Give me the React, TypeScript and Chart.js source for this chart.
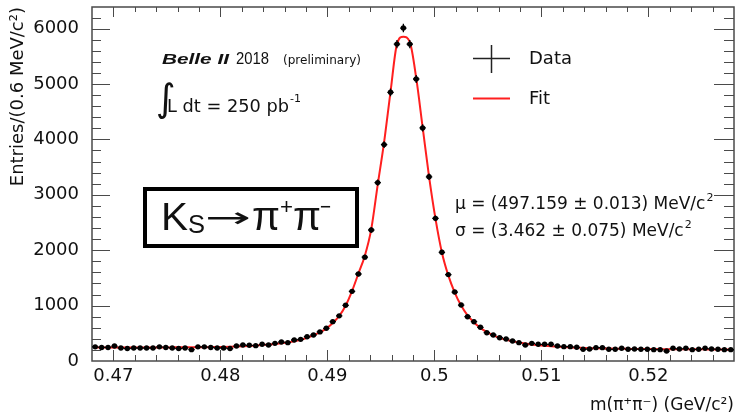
import React, { useEffect, useRef } from "react";
import { Chart, registerables } from "chart.js";

Chart.register(...registerables);

// ---- histogram binning (GeV/c^2) ----
const BIN_LOW = 0.468;
const BIN_WIDTH = 0.0006;

// ---- data: entries per 0.6 MeV/c^2 bin ----
const DATA_COUNTS = [
  255, 245, 245, 270, 235, 225, 235, 235, 235, 235,
  255, 245, 235, 225, 235, 205, 255, 255, 245, 235,
  235, 225, 270, 289, 283, 277, 301, 289, 319, 343,
  331, 379, 391, 439, 469, 525, 590, 710, 815, 1005,
  1257, 1570, 1875, 2365, 3220, 3906, 4850, 5720, 6010, 5720,
  5090, 4207, 3325, 2575, 1962, 1560, 1245, 1010, 800, 709,
  608, 511, 469, 421, 397, 361, 331, 289, 319, 301,
  301, 301, 271, 259, 259, 247, 211, 217, 241, 241,
  211, 211, 229, 211, 217, 211, 211, 205, 205, 180,
  229, 217, 229, 205, 211, 229, 217, 211, 205, 205,
];

// ---- fit curve values read at the bin centres ----
const FIT_VALUES = [
  244, 244, 244, 244, 244, 244, 244, 244, 245, 245,
  245, 245, 246, 246, 247, 247, 248, 249, 250, 252,
  254, 257, 261, 266, 272, 279, 287, 297, 308, 321,
  336, 355, 382, 420, 465, 518, 585, 685, 812, 998,
  1262, 1580, 1900, 2380, 3180, 3950, 4860, 5720, 5855, 5760,
  5110, 4220, 3330, 2570, 1960, 1545, 1235, 1000, 822, 695,
  598, 520, 462, 417, 382, 354, 332, 314, 299, 286,
  275, 266, 258, 251, 245, 240, 236, 232, 229, 226,
  224, 222, 220, 219, 218, 217, 216, 215, 214, 213,
  212, 212, 211, 211, 210, 210, 209, 209, 208, 208,
];

const X_TICKS = [0.47, 0.48, 0.49, 0.5, 0.51, 0.52];
const Y_TICKS = [0, 1000, 2000, 3000, 4000, 5000, 6000];
const X_MIN = 0.468;
const X_MAX = 0.528;
const Y_MIN = 0;
const Y_MAX = 6390;
const X_MINOR_STEP = 0.002;
const Y_MINOR_STEP = 200;

const X_TITLE = "m(π⁺π⁻) (GeV/c²)";
const Y_TITLE = "Entries/(0.6 MeV/c²)";
const SERIES_DATA = "Data";
const SERIES_FIT = "Fit";
const EXPERIMENT = "Belle II";
const YEAR = "2018";
const STATUS = "(preliminary)";
const LUMI = "L dt = 250 pb";
const LUMI_EXP = "-1";
const MU_TEXT = "μ = (497.159 ± 0.013) MeV/c";
const SIGMA_TEXT = "σ = (3.462 ± 0.075) MeV/c";
const DECAY = { k: "K", sub: "S", arrow: "→", pi: "π", plus: "+", minus: "−" };

const FONT = "'DejaVu Sans'";
const HELV = "'Liberation Sans'";
const AXIS_COLOR = "#4a4a4a";
const TEXT_COLOR = "#111";

const font = (size: number, style = "", fam = FONT) => `${style} ${size}px ${fam}`.trim();

const overlay = {
  id: "overlay",
  beforeDatasetsDraw(chart: any) {
    const { ctx, chartArea: a, scales } = chart;
    const x = scales.x;
    const y = scales.y;
    ctx.save();
    ctx.strokeStyle = AXIS_COLOR;
    ctx.lineWidth = 1;
    ctx.beginPath();
    const kx0 = Math.ceil(X_MIN / X_MINOR_STEP - 1e-6);
    const kx1 = Math.floor(X_MAX / X_MINOR_STEP + 1e-6);
    for (let k = kx0; k <= kx1; k++) {
      const px = Math.round(x.getPixelForValue(k * X_MINOR_STEP)) + 0.5;
      if (px <= a.left + 1 || px >= a.right - 1) continue;
      const major = k % 5 === 0;
      const lb = major ? 11 : 6;
      const lt = major ? 10 : 5;
      ctx.moveTo(px, a.bottom);
      ctx.lineTo(px, a.bottom - lb);
      ctx.moveTo(px, a.top);
      ctx.lineTo(px, a.top + lt);
    }
    const ky1 = Math.floor(Y_MAX / Y_MINOR_STEP);
    for (let k = 1; k <= ky1; k++) {
      const py = Math.round(y.getPixelForValue(k * Y_MINOR_STEP)) + 0.5;
      const major = k % 5 === 0;
      const l = major ? 18 : 9;
      const r = major ? 20 : 10;
      ctx.moveTo(a.left, py);
      ctx.lineTo(a.left + l, py);
      ctx.moveTo(a.right, py);
      ctx.lineTo(a.right - r, py);
    }
    ctx.stroke();
    ctx.lineWidth = 1.5;
    ctx.strokeRect(a.left, a.top, a.right - a.left, a.bottom - a.top);
    ctx.restore();
  },
  afterDatasetsDraw(chart: any) {
    const { ctx, scales } = chart;
    const x = scales.x;
    const y = scales.y;
    ctx.save();
    ctx.strokeStyle = "#000";
    ctx.lineWidth = 1.3;
    ctx.beginPath();
    DATA_COUNTS.forEach((n, i) => {
      const c = BIN_LOW + BIN_WIDTH * (i + 0.5);
      const e = Math.sqrt(n);
      const px = x.getPixelForValue(c);
      const py = y.getPixelForValue(n);
      ctx.moveTo(px, y.getPixelForValue(n - e));
      ctx.lineTo(px, y.getPixelForValue(n + e));
      ctx.moveTo(x.getPixelForValue(c - BIN_WIDTH / 2), py);
      ctx.lineTo(x.getPixelForValue(c + BIN_WIDTH / 2), py);
    });
    ctx.stroke();

    ctx.fillStyle = TEXT_COLOR;
    ctx.textBaseline = "alphabetic";
    ctx.textAlign = "left";

    const fitText = (t: string, sx: number, by: number, f: string, w?: number) => {
      ctx.font = f;
      const m = ctx.measureText(t).width;
      if (w && m > 0) {
        ctx.save();
        ctx.translate(sx, by);
        ctx.scale(w / m, 1);
        ctx.fillText(t, 0, 0);
        ctx.restore();
        return w;
      }
      ctx.fillText(t, sx, by);
      return m;
    };

    // Belle II 2018 (preliminary)
    fitText(EXPERIMENT, 162, 64, font(15.5, "italic bold", HELV), 67);
    fitText(YEAR, 236, 64, font(16.5, "", HELV), 33);
    fitText(STATUS, 283, 64, font(12.5), 78);

    // integrated luminosity
    ctx.font = font(38);
    ctx.fillText("∫", 156, 111);
    const lw = fitText(LUMI, 167, 112, font(18), 122);
    ctx.font = font(11);
    ctx.fillText(LUMI_EXP, 167 + lw + 1, 102);

    // legend
    const ds = chart.data.datasets;
    ctx.strokeStyle = "#222";
    ctx.lineWidth = 1.5;
    ctx.beginPath();
    ctx.moveTo(473, 58.5);
    ctx.lineTo(510, 58.5);
    ctx.moveTo(491.5, 45);
    ctx.lineTo(491.5, 73);
    ctx.stroke();
    ctx.strokeStyle = ds[1].borderColor;
    ctx.lineWidth = 2;
    ctx.beginPath();
    ctx.moveTo(473, 98.5);
    ctx.lineTo(510, 98.5);
    ctx.stroke();
    ctx.font = font(18);
    ctx.textBaseline = "middle";
    ctx.fillText(ds[0].label, 529, 59);
    ctx.fillText(ds[1].label, 529, 99);
    ctx.textBaseline = "alphabetic";

    // fit parameters
    const drawWithSup = (txt: string, sx: number, by: number) => {
      ctx.font = font(17);
      ctx.fillText(txt, sx, by);
      const w = ctx.measureText(txt).width;
      ctx.font = font(11);
      ctx.fillText("2", sx + w + 1, by - 8);
    };
    drawWithSup(MU_TEXT, 455, 209);
    drawWithSup(SIGMA_TEXT, 455, 236);

    // decay box
    ctx.strokeStyle = "#000";
    ctx.lineWidth = 4;
    ctx.strokeRect(145, 189, 212, 57);
    const base = 230;
    fitText(DECAY.k, 161, base, font(39, "", HELV), 27);
    fitText(DECAY.sub, 188, base + 3, font(26, "", HELV), 17);
    fitText(DECAY.arrow, 205, base - 3, font(28), 46);
    fitText(DECAY.pi, 252, base, font(40, "", HELV), 28);
    fitText(DECAY.plus, 280, base - 16, font(22, "", HELV), 13);
    fitText(DECAY.pi, 293, base, font(40, "", HELV), 28);
    fitText(DECAY.minus, 320, base - 16, font(22, "", HELV), 11);
    ctx.restore();
  },
};

export default function App() {
  const ref = useRef<HTMLCanvasElement | null>(null);
  useEffect(() => {
    if (!ref.current) return;
    const centers = DATA_COUNTS.map((_, i) => BIN_LOW + BIN_WIDTH * (i + 0.5));
    const chart = new Chart(ref.current, {
      type: "line",
      data: {
        datasets: [
          {
            label: SERIES_DATA,
            data: DATA_COUNTS.map((v, i) => ({ x: centers[i], y: v })),
            showLine: false,
            pointRadius: 2.7,
            pointBackgroundColor: "#000",
            pointBorderWidth: 0,
            borderColor: "#000",
          },
          {
            label: SERIES_FIT,
            data: FIT_VALUES.map((v, i) => ({ x: centers[i], y: v })),
            borderColor: "#ff1f1f",
            borderWidth: 2,
            pointRadius: 0,
            cubicInterpolationMode: "monotone",
            fill: false,
          },
        ],
      },
      options: {
        animation: false,
        responsive: true,
        maintainAspectRatio: false,
        layout: { padding: { top: 7, right: 3, left: 0, bottom: 0 } },
        plugins: { legend: { display: false }, tooltip: { enabled: false } },
        scales: {
          x: {
            type: "linear",
            min: X_MIN,
            max: X_MAX,
            grid: { display: false },
            border: { display: false },
            afterBuildTicks: (s: any) => {
              s.ticks = X_TICKS.map((v) => ({ value: v }));
            },
            afterFit: (s: any) => {
              s.height = 53;
              s.paddingLeft = 0;
              s.paddingRight = 0;
            },
            ticks: {
              font: { family: FONT, size: 18 },
              color: TEXT_COLOR,
              padding: -3,
              maxRotation: 0,
              autoSkip: false,
              callback: (v: any) => String(v),
            },
            title: {
              display: true,
              text: X_TITLE,
              align: "end",
              color: TEXT_COLOR,
              font: { family: FONT, size: 17 },
              padding: { top: 0, bottom: -2 },
            },
          },
          y: {
            type: "linear",
            min: Y_MIN,
            max: Y_MAX,
            grid: { display: false },
            border: { display: false },
            afterBuildTicks: (s: any) => {
              s.ticks = Y_TICKS.map((v) => ({ value: v }));
            },
            afterFit: (s: any) => {
              s.width = 92;
              s.paddingTop = 0;
              s.paddingBottom = 0;
            },
            ticks: {
              font: { family: FONT, size: 18 },
              color: TEXT_COLOR,
              padding: 5,
              callback: (v: any) => String(v),
            },
            title: {
              display: true,
              text: Y_TITLE,
              align: "end",
              color: TEXT_COLOR,
              font: { family: FONT, size: 18 },
              padding: { top: 8, bottom: 0 },
            },
          },
        },
      },
      plugins: [overlay],
    });
    return () => chart.destroy();
  }, []);
  return (
    <div style={{ position: "fixed", left: 0, top: 0, width: 738, height: 414, background: "#fff" }}>
      <canvas ref={ref} />
    </div>
  );
}
